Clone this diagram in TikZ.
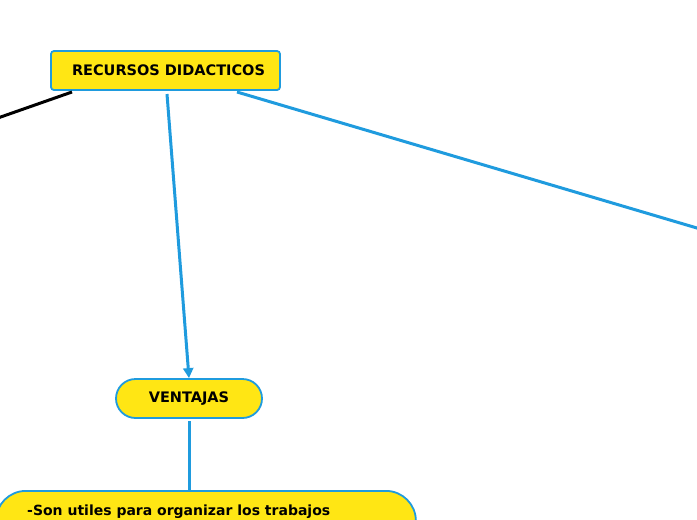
\documentclass[tikz,border=0pt]{standalone}
\usepackage{fontspec}
\setmainfont{DejaVu Sans}
\usetikzlibrary{arrows.meta}
\definecolor{ylw}{HTML}{FFE614}
\definecolor{blu}{HTML}{1F9BDE}
\tikzset{
  topic/.style={draw=blu, fill=ylw, line width=1.8pt, font=\fontsize{14.5}{16}\selectfont\bfseries},
  conn/.style={draw=blu, line width=3pt},
  blackconn/.style={draw=black, line width=3pt},
  tip/.style={-{Triangle[length=10pt,width=10pt]}}
}
\begin{document}
\begin{tikzpicture}[x=1pt,y=-1pt]
\useasboundingbox (0,0) rectangle (697,520);
\clip (0,0) rectangle (697,520);
\node[topic, rounded corners=3pt, minimum width=229pt, minimum height=39pt] (rec) at (165.5,70.5) {\hspace{6pt}RECURSOS DIDACTICOS};
\node[topic, rounded corners=19.5pt, minimum width=146pt, minimum height=39pt] (ven) at (189,398.5) {VENTAJAS};
\node[topic, rounded corners=30pt, minimum width=420pt, minimum height=90pt, anchor=north west] (box) at (-5,490) {};
\node[font=\fontsize{14}{16}\selectfont\bfseries, anchor=base west, inner sep=0pt] (txt) at (27,515) {-Son utiles para organizar los trabajos};
\coordinate (leftend) at (-5,119);
\coordinate (rightend) at (702,229.5);
\coordinate (recL) at (72,92);
\coordinate (recM) at (167,94);
\coordinate (recR) at (237,92);
\coordinate (venB) at (189,421);
\draw[blackconn] (recL) -- (leftend);
\draw[conn] (recR) -- (rightend);
\draw[conn, tip] (recM) -- (ven.north);
\draw[conn] (venB) -- (box.north -| venB);
\end{tikzpicture}
\end{document}
